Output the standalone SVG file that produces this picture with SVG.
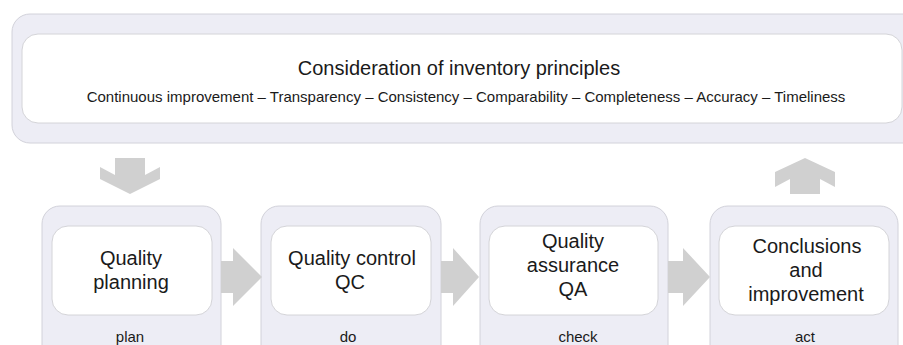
<svg xmlns="http://www.w3.org/2000/svg" width="903" height="345" viewBox="0 0 903 345">
<style>
.outer{fill:#ededf5;stroke:#d2d2da;stroke-width:1}
.inner{fill:#ffffff;stroke:#d4d4d8;stroke-width:1}
.arrow{fill:#d0d0d0;stroke:none}
text{font-family:"Liberation Sans",Arial,sans-serif;fill:#1a1a1a;text-anchor:middle}
.title{font-size:20px}
.sub{font-size:15px}
.box{font-size:20px}
.lab{font-size:15px}
</style>
<rect width="903" height="345" fill="#ffffff"/>
<g id="principles">
<rect class="outer" x="12" y="14" width="910" height="129" rx="18"/>
<rect class="inner" x="22" y="34" width="880" height="89" rx="16"/>
<text class="title" x="459" y="75">Consideration of inventory principles</text>
<text class="sub" x="466" y="102">Continuous improvement – Transparency – Consistency – Comparability – Completeness – Accuracy – Timeliness</text>
</g>
<g id="plan">
<rect class="outer" x="42" y="206" width="179" height="170" rx="18"/>
<rect class="inner" x="52" y="226" width="160" height="89" rx="16"/>
<text class="box" x="131" y="265">Quality</text>
<text class="box" x="131" y="289">planning</text>
<text class="lab" x="130" y="342">plan</text>
</g>
<g id="do">
<rect class="outer" x="261" y="206" width="180" height="170" rx="18"/>
<rect class="inner" x="271" y="226" width="160" height="89" rx="16"/>
<text class="box" x="352" y="265">Quality control</text>
<text class="box" x="350" y="289">QC</text>
<text class="lab" x="348" y="342">do</text>
</g>
<g id="check">
<rect class="outer" x="480" y="206" width="188" height="170" rx="18"/>
<rect class="inner" x="489" y="226" width="169" height="89" rx="16"/>
<text class="box" x="573" y="248">Quality</text>
<text class="box" x="573" y="272">assurance</text>
<text class="box" x="573" y="296">QA</text>
<text class="lab" x="578" y="342">check</text>
</g>
<g id="act">
<rect class="outer" x="710" y="206" width="188" height="170" rx="18"/>
<rect class="inner" x="719" y="226" width="170" height="89" rx="16"/>
<text class="box" x="807" y="253">Conclusions</text>
<text class="box" x="806" y="277">and</text>
<text class="box" x="806" y="301">improvement</text>
<text class="lab" x="805" y="342">act</text>
</g>
<g id="connectors">
<polygon class="arrow" points="115,158 145,158 145,175 160,167 160,179 130,194 100,179 100,167 115,175"/>
<polygon class="arrow" points="805,158 835,172 835,187 820,179 820,194 790,194 790,179 775,187 775,172"/>
<polygon class="arrow" points="221,261 233,261 233,248 262,277 233,306 233,293 221,293"/>
<polygon class="arrow" points="441,261 453,261 453,248 479,277 453,306 453,293 441,293"/>
<polygon class="arrow" points="668,261 683,261 683,248 710,277 683,306 683,293 668,293"/>
</g>
</svg>
